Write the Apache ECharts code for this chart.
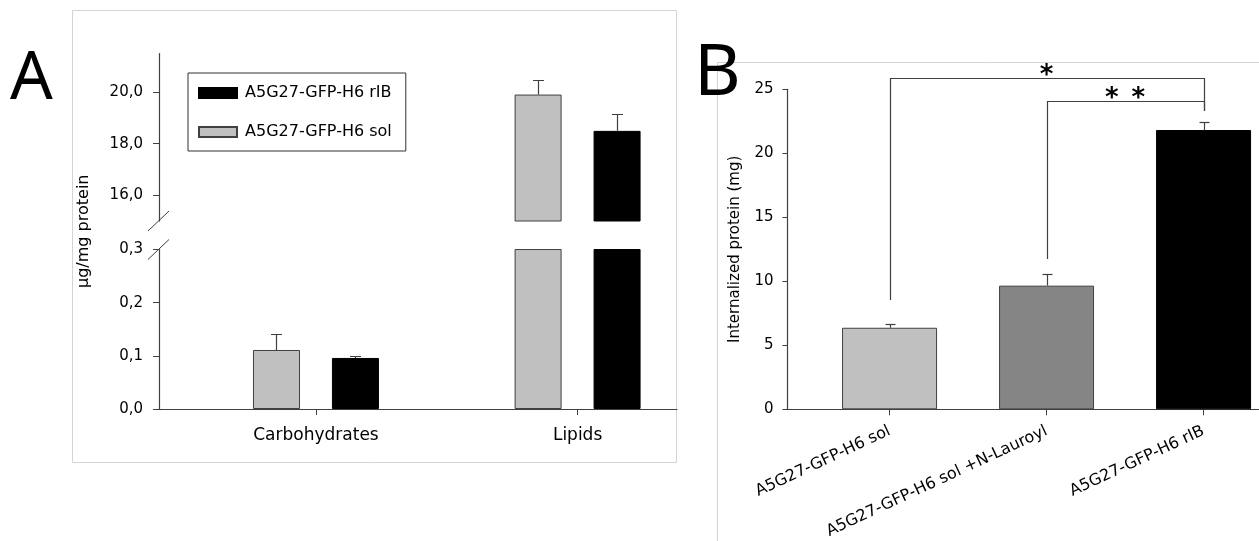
<!DOCTYPE html>
<html>
<head>
<meta charset="utf-8">
<script src="https://cdn.jsdelivr.net/npm/echarts@6/dist/echarts.min.js"></script>
<style>
html,body{margin:0;padding:0;background:#fff;}
#chart{width:1259px;height:541px;}
</style>
</head>
<body>
<div id="chart"></div>
<script>
// ---------- DATA ----------
const catsA = ['Carbohydrates', 'Lipids'];
const nameSol = 'A5G27-GFP-H6 sol';
const nameRib = 'A5G27-GFP-H6 rIB';
const solA = [0.111, 19.91];
const solAErr = [0.030, 0.56];
const ribA = [0.096, 18.50];
const ribAErr = [0.004, 0.66];
const ticksALow = [0, 0.1, 0.2, 0.3];
const ticksAUp = [16, 18, 20];

const catsB = ['A5G27-GFP-H6 sol', 'A5G27-GFP-H6 sol +N-Lauroyl', 'A5G27-GFP-H6 rIB'];
const valsB = [6.37, 9.66, 21.82];
const errsB = [0.32, 0.89, 0.65];
const ticksB = [0, 5, 10, 15, 20, 25];
// significance brackets: from index, to index, bracket top, left end, right end
const sigFrom = [0, 1];
const sigTo = [2, 2];
const sigTop = [25.88, 24.09];
const sigLeftEnd = [8.54, 11.74];
const sigRightEnd = [23.3, 23.3];
const sigLabel = ['*', '*\u2002*'];

// ---------- STYLE ----------
const FONT = 'DejaVu Sans';
const AX = '#404040';
const colSol = '#c0c0c0';
const colRib = '#000000';
const colorsB = ['#c0c0c0', '#858585', '#000000'];

const chart = echarts.init(document.getElementById('chart'), null, {renderer: 'canvas'});

function fmtComma(v) { return Number(v).toFixed(1).replace('.', ','); }

function errRender(offsetPx, capHalf) {
  return function (params, api) {
    const x = api.value(0), v = api.value(1), e = api.value(2);
    const p0 = api.coord([x, v]);
    const p1 = api.coord([x, v + e]);
    const cx = Math.round(p0[0] + offsetPx) + 0.5;
    const y1 = Math.round(p1[1]) + 0.5;
    const st = {stroke: AX, lineWidth: 1.2};
    return {type: 'group', children: [
      {type: 'line', shape: {x1: cx, y1: p0[1], x2: cx, y2: y1}, style: st},
      {type: 'line', shape: {x1: cx - capHalf, y1: y1, x2: cx + capHalf, y2: y1}, style: st}
    ]};
  };
}

function sigRender(params, api) {
  const i = params.dataIndex;
  const a = api.coord([api.value(0), api.value(3)]);
  const b = api.coord([api.value(0), api.value(2)]);
  const c = api.coord([api.value(1), api.value(2)]);
  const d = api.coord([api.value(1), api.value(4)]);
  const r = (v) => Math.round(v) + 0.5;
  return {type: 'group', children: [
    {type: 'polyline', shape: {points: [[r(a[0]), a[1]], [r(b[0]), r(b[1])], [r(c[0]), r(c[1])], [r(d[0]), d[1]]]},
     style: {stroke: AX, lineWidth: 1.2, fill: null}},
    {type: 'text', x: (b[0] + c[0]) / 2, y: b[1] + 11,
     style: {text: sigLabel[i], align: 'center', verticalAlign: 'bottom',
             fontSize: 26, fontWeight: 'bold', fontFamily: FONT, fill: '#000'}}
  ]};
}

const xA = {min: -0.6, max: 1.38};
const xB = {min: -0.65, max: 2.35};

const labelA = {fontFamily: FONT, fontSize: 15, color: '#000'};
const axLine = {show: true, onZero: false, lineStyle: {color: AX, width: 1.2}};

const option = {
  animation: false,
  backgroundColor: '#fff',
  grid: [
    {left: 159, top: 53.6, width: 518, height: 167.4},
    {left: 159, top: 249.5, width: 518, height: 159.5},
    {left: 787.5, top: 89.3, width: 471, height: 320}
  ],
  legend: {
    left: 188, top: 73, orient: 'vertical',
    data: [nameRib, nameSol],
    icon: 'rect', itemWidth: 38, itemHeight: 10, itemGap: 23,
    padding: [12, 14, 11, 10],
    borderColor: '#333', borderWidth: 1,
    selectedMode: false,
    textStyle: {fontFamily: FONT, fontSize: 16, color: '#000', padding: [0, 0, 0, 3]}
  },
  xAxis: [
    {gridIndex: 0, type: 'value', min: xA.min, max: xA.max, show: false},
    {gridIndex: 1, type: 'value', min: xA.min, max: xA.max,
     axisLine: axLine,
     axisTick: {show: true, length: 6, customValues: [0, 1], lineStyle: {color: AX}},
     axisLabel: {customValues: [0, 1], formatter: (v) => catsA[Math.round(v)], margin: 18,
                 fontFamily: FONT, fontSize: 17, color: '#000'},
     splitLine: {show: false}},
    {gridIndex: 2, type: 'value', min: xB.min, max: xB.max,
     axisLine: axLine,
     axisTick: {show: true, length: 6, customValues: [0, 1, 2], lineStyle: {color: AX}},
     axisLabel: {customValues: [0, 1, 2], formatter: (v) => catsB[Math.round(v)], margin: 21, rotate: 25,
                 fontFamily: FONT, fontSize: 16, color: '#000'},
     splitLine: {show: false}}
  ],
  yAxis: [
    {gridIndex: 0, type: 'value', min: 15, max: 21.5,
     axisLine: axLine,
     axisTick: {show: true, length: 6, customValues: ticksAUp, lineStyle: {color: AX}},
     axisLabel: Object.assign({customValues: ticksAUp, formatter: fmtComma, margin: 16}, labelA),
     splitLine: {show: false}},
    {gridIndex: 1, type: 'value', min: 0, max: 0.3,
     name: 'µg/mg protein', nameLocation: 'middle', nameGap: 67,
     nameTextStyle: {fontFamily: FONT, fontSize: 16, color: '#000', padding: [0, 0, 0, 196]},
     axisLine: axLine,
     axisTick: {show: true, length: 6, customValues: ticksALow, lineStyle: {color: AX}},
     axisLabel: Object.assign({customValues: ticksALow, formatter: fmtComma, margin: 16}, labelA),
     splitLine: {show: false}},
    {gridIndex: 2, type: 'value', min: 0, max: 25, interval: 5,
     name: 'Internalized protein (mg)', nameLocation: 'middle', nameGap: 45,
     nameTextStyle: {fontFamily: FONT, fontSize: 15, color: '#000'},
     axisLine: axLine,
     axisTick: {show: true, length: 5, lineStyle: {color: AX}},
     axisLabel: {margin: 14, fontFamily: FONT, fontSize: 15, color: '#000'},
     splitLine: {show: false}}
  ],
  series: []
};

// Panel A bars, drawn in both the upper and lower segments of the broken axis
[0, 1].forEach(function (g) {
  option.series.push({
    name: nameSol, type: 'bar', xAxisIndex: g, yAxisIndex: g, clip: true,
    barWidth: 47, barGap: '68%',
    itemStyle: {color: colSol, borderColor: AX, borderWidth: 1},
    data: solA.map((v, i) => [i, v])
  });
  option.series.push({
    name: nameRib, type: 'bar', xAxisIndex: g, yAxisIndex: g, clip: true,
    barWidth: 47, barGap: '68%',
    itemStyle: {color: colRib, borderColor: '#000', borderWidth: 1},
    data: ribA.map((v, i) => [i, v])
  });
  option.series.push({
    type: 'custom', xAxisIndex: g, yAxisIndex: g, clip: true, z: 5,
    renderItem: errRender(-39.5, 5.5),
    data: solA.map((v, i) => [i, v, solAErr[i]])
  });
  option.series.push({
    type: 'custom', xAxisIndex: g, yAxisIndex: g, clip: true, z: 5,
    renderItem: errRender(39.5, 5.5),
    data: ribA.map((v, i) => [i, v, ribAErr[i]])
  });
});

// Panel B
option.series.push({
  type: 'bar', xAxisIndex: 2, yAxisIndex: 2, barWidth: 95,
  data: valsB.map((v, i) => ({value: [i, v],
    itemStyle: {color: colorsB[i], borderColor: i === 2 ? '#000' : AX, borderWidth: 1}}))
});
option.series.push({
  type: 'custom', xAxisIndex: 2, yAxisIndex: 2, z: 5,
  renderItem: errRender(0, 5),
  data: valsB.map((v, i) => [i, v, errsB[i]])
});
option.series.push({
  type: 'custom', xAxisIndex: 2, yAxisIndex: 2, z: 5,
  renderItem: sigRender,
  data: sigFrom.map((f, i) => [f, sigTo[i], sigTop[i], sigLeftEnd[i], sigRightEnd[i]])
});

chart.setOption(option);

// decorations: panel frames, panel letters, axis-break marks
const yUpBottom = chart.convertToPixel({yAxisIndex: 0}, 15);
const yLowTop = chart.convertToPixel({yAxisIndex: 1}, 0.3);
const xAxisLine = chart.convertToPixel({xAxisIndex: 1}, xA.min);
const slash = (yc) => ({type: 'line', shape: {x1: xAxisLine - 11, y1: yc + 10, x2: xAxisLine + 10, y2: yc - 10},
                        style: {stroke: AX, lineWidth: 1}, z: 10});
chart.setOption({
  graphic: [
    {type: 'rect', shape: {x: 72.5, y: 10.5, width: 604, height: 452}, style: {stroke: '#d4d4d4', fill: null, lineWidth: 1}, z: -1},
    {type: 'line', shape: {x1: 717.5, y1: 62.5, x2: 717.5, y2: 541}, style: {stroke: '#d4d4d4', lineWidth: 1}, z: -1},
    {type: 'line', shape: {x1: 717.5, y1: 62.5, x2: 1259, y2: 62.5}, style: {stroke: '#d4d4d4', lineWidth: 1}, z: -1},
    {type: 'text', x: 10, y: 80, style: {text: 'A', fontFamily: 'Noto Sans', fontSize: 67, fill: '#000', verticalAlign: 'middle'}},
    {type: 'text', x: 694, y: 74, style: {text: 'B', fontFamily: 'Noto Sans', fontSize: 72, fill: '#000', verticalAlign: 'middle'}},
    slash(yUpBottom),
    slash(yLowTop)
  ]
});
</script>
</body>
</html>
